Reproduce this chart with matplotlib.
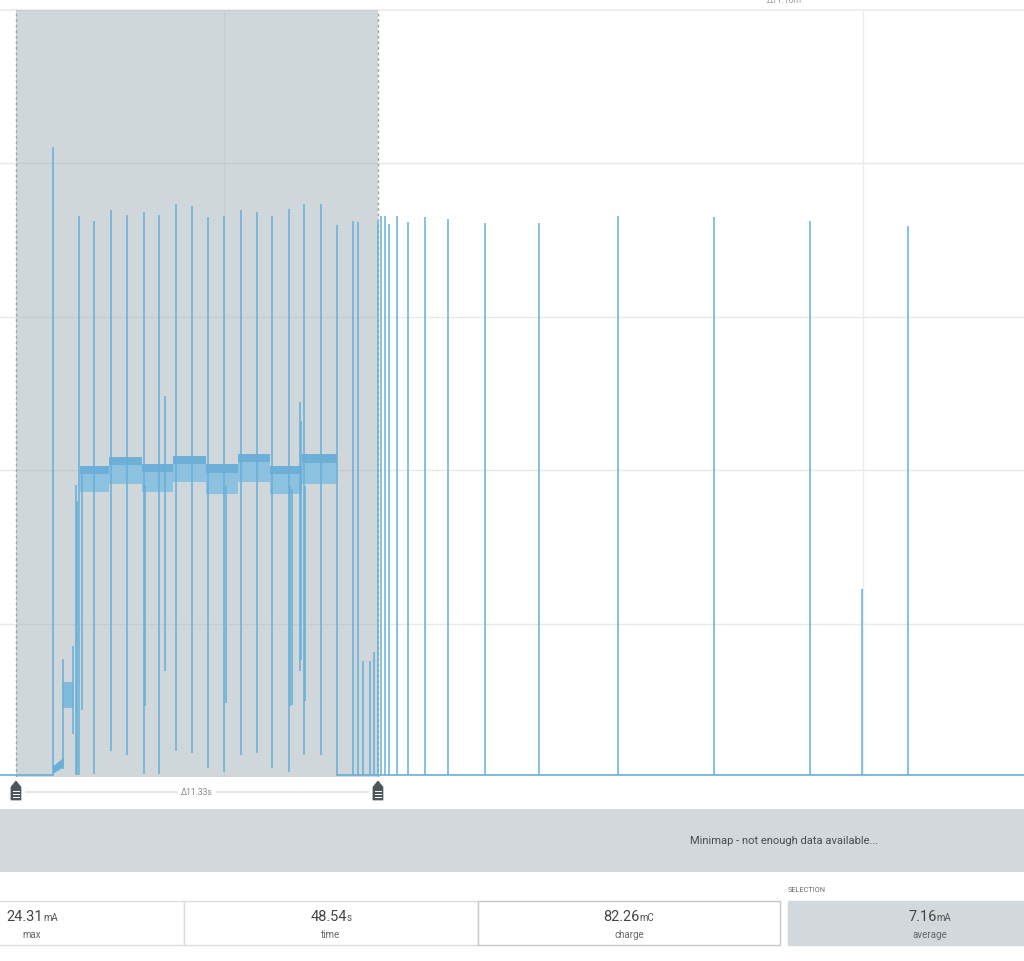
import matplotlib
matplotlib.use('Agg')
import matplotlib.pyplot as plt
from matplotlib.patches import Rectangle, Polygon
from matplotlib.offsetbox import TextArea, HPacker, AnnotationBbox

plt.rcParams['font.family'] = ['Roboto', 'DejaVu Sans']

# visible window: time (s) and current (mA)
t_view = [2.99, 35.04]
i_view = [0, 25]
grid_t = [10, 30]
grid_i = [5, 10, 15, 20]

# selected range
sel_start = 3.49
sel_end = 14.82
sel_label = 'Δ11.33s'
top_label = 'Δ11.16m'

# idle current and the stretches where the trace sits on it
idle_level = 0.05
idle_spans = [(2.99, 4.64), (13.53, 35.04)]

# short activity bursts during the active phase: time, lowest point, peak
spike_t = [4.64, 4.95, 5.28, 5.36, 5.41, 5.47, 5.55,
           5.94, 6.46, 6.95, 7.50, 7.54, 7.98, 8.15, 8.50, 8.99,
           9.51, 10.00, 10.06, 10.52, 11.02, 11.51, 12.03, 12.08, 12.12,
           12.38, 12.41, 12.51, 12.54, 13.05, 13.53]
spike_lo = [0.05, 0.26, 1.40, 0.05, 0.05, 0.05, 2.18,
            0.10, 0.85, 0.72, 0.10, 2.31, 0.10, 3.45, 0.85, 0.78,
            0.29, 0.16, 2.41, 0.72, 0.78, 0.29, 0.16, 2.31, 2.35,
            3.45, 3.80, 0.72, 2.48, 0.72, 0.05]
spike_hi = [20.53, 3.85, 4.27, 9.52, 9.00, 18.30, 10.00,
            18.12, 18.48, 18.32, 18.43, 9.50, 18.32, 12.42, 18.68, 18.60,
            18.25, 18.30, 9.50, 18.48, 18.43, 18.30, 18.51, 9.50, 9.40,
            12.22, 11.60, 18.68, 9.50, 18.68, 17.99]

# advertising-like spikes from the idle level
idle_t = [14.05, 14.20, 14.36, 14.58, 14.69, 14.81, 14.92, 15.04, 15.18,
          15.41, 15.76, 16.28, 17.02, 18.17, 19.86, 22.33, 25.34, 28.34,
          29.97, 31.41]
idle_hi = [18.12, 18.09, 3.78, 3.78, 4.07, 18.12, 18.30, 18.30, 18.02,
           18.30, 18.09, 18.25, 18.19, 18.06, 18.06, 18.30, 18.25, 18.12,
           6.13, 17.96]

# first low steps after start-up
step_t = [4.65, 4.95]
step_lo = [0.15, 0.35]
step_hi = [0.35, 0.60]
low_t = [4.95, 5.28]
low_lo = [2.25, 2.25]
low_hi = [3.10, 3.10]

# noisy ~10 mA plateau, segment edges and band limits
plat_edges = [5.49, 6.40, 7.43, 8.40, 9.44, 10.44, 11.44, 12.44, 13.53]
plat_lo = [9.29, 9.55, 9.29, 9.62, 9.22, 9.62, 9.22, 9.55]
plat_hi = [10.14, 10.43, 10.20, 10.46, 10.20, 10.53, 10.14, 10.53]

# summary boxes
stats_values = ['24.31', '48.54', '82.26', '7.16']
stats_units = ['mA', 's', 'mC', 'mA']
stats_labels = ['max', 'time', 'charge', 'average']

W, H = 1024, 962
blue = '#66afd8'
panel = '#d2d8dc'

fig = plt.figure(figsize=(W / 100, H / 100), dpi=100)
fig.patch.set_facecolor('white')

# main chart, pixel rows 11..778
ax = fig.add_axes([0, 1 - 778 / H, 1, 767 / H])
ax.set_xlim(t_view)
ax.set_ylim(i_view)
ax.set_axis_off()

for g in grid_i:
    ax.axhline(g, color='#e9e9e9', lw=1, zorder=0.5)
for g in grid_t:
    ax.axvline(g, color='#ececec', lw=1, zorder=0.5)
ax.axhline(i_view[1], color='#efefef', lw=1.6, zorder=0.5, clip_on=False)

ax.axvspan(sel_start, sel_end, color='#a3b1b9', alpha=0.5, lw=0, zorder=1)
for t in (sel_start, sel_end):
    ax.axvline(t, color='#9aa4aa', lw=1, ls=(0, (2, 2)), zorder=1.5)

# trace
for a, b in idle_spans:
    ax.plot([a, b], [idle_level, idle_level], color=blue, lw=1.2,
            zorder=3, clip_on=False)
ax.fill_between(step_t, step_lo, step_hi, color=blue, lw=0.8, zorder=3)
ax.fill_between(low_t, low_lo, low_hi, color='#80bbdc', lw=0, zorder=3)
lo_full = plat_lo + [plat_lo[-1]]
hi_full = plat_hi + [plat_hi[-1]]
mid_full = [h - 0.3 * (h - l) for l, h in zip(lo_full, hi_full)]
ax.fill_between(plat_edges, lo_full, hi_full, step='post',
                color='#8cc1df', lw=0, zorder=3)
ax.fill_between(plat_edges, mid_full, hi_full, step='post',
                color='#6dafd6', lw=0, zorder=3.1)
ax.vlines(spike_t, spike_lo, spike_hi, color=blue, lw=1.1, zorder=3.2)
ax.vlines(idle_t, idle_level, idle_hi, color=blue, lw=1.1, zorder=3.2)

# overlay in pixel coordinates for the surrounding UI
ui = fig.add_axes([0, 0, 1, 1])
ui.set_xlim(0, W)
ui.set_ylim(H, 0)
ui.set_axis_off()


def to_px(t):
    return (t - t_view[0]) / (t_view[1] - t_view[0]) * W


x0, x1 = to_px(sel_start), to_px(sel_end)
ui.plot([x0 + 10, x1 - 10], [793, 793], color='#e8e8e8', lw=1.5)
ui.text((x0 + x1) / 2, 793, sel_label, ha='center', va='center', fontsize=6.2,
        color='#8a8a8a', bbox=dict(fc='white', ec='none', pad=2))
for cx in (x0, x1):
    ui.add_patch(Polygon([(cx - 5, 801), (cx - 5, 788), (cx, 782),
                          (cx + 5, 788), (cx + 5, 801)],
                         closed=True, fc='#4d5559', ec='#4d5559', lw=0.5,
                         joinstyle='round'))
    for yy in (791.5, 794.5, 797.5):
        ui.plot([cx - 2.8, cx + 2.8], [yy, yy], color='white', lw=0.7)

ui.text(784, 3, top_label, ha='center', va='baseline', fontsize=6.2,
        color='#9a9a9a')

# minimap band
ui.add_patch(Rectangle((0, 810), W, 63, fc=panel, ec='none'))
ui.text(784, 841.5, 'Minimap - not enough data available...', ha='center',
        va='center', fontsize=8, color='#4a4a4a')

# stats boxes
box_x = [-120, 184, 478, 788]
box_w = [304, 294, 302, 284]
box_fill = ['white', 'white', 'white', panel]
box_edge = ['#dcdcdc', '#dcdcdc', '#c8c8c8', panel]
for bx, bw, fc, ec in zip(box_x, box_w, box_fill, box_edge):
    ui.add_patch(Rectangle((bx, 902), bw, 44, fc=fc, ec=ec, lw=1))
ui.text(788, 891, 'SELECTION', ha='left', va='center', fontsize=5.3,
        color='#6b6b6b')

for bx, bw, val, unit, lab in zip(box_x, box_w, stats_values, stats_units,
                                  stats_labels):
    cx = bx + bw / 2
    pack = HPacker(children=[
        TextArea(val, textprops=dict(fontsize=10.5, color='#454545')),
        TextArea(unit, textprops=dict(fontsize=7, color='#555555'))],
        align='baseline', pad=0, sep=0)
    ui.add_artist(AnnotationBbox(pack, (cx, 917), frameon=False,
                                 box_alignment=(0.5, 0.5), pad=0))
    ui.text(cx, 935, lab, ha='center', va='center', fontsize=7,
            color='#666666')

fig.savefig('out.png', dpi=100)
